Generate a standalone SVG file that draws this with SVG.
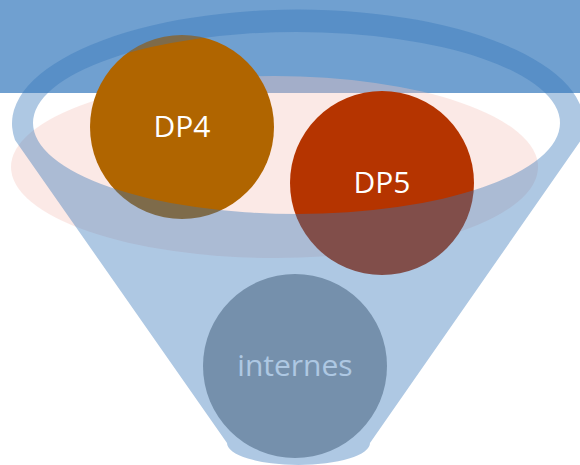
<svg xmlns="http://www.w3.org/2000/svg" width="580" height="465" viewBox="0 0 580 465">
<style>
.lbl{font-family:"Open Sans","Liberation Sans",sans-serif;font-size:30px;fill:#ffffff;text-anchor:middle}
.node{stroke:none}
</style>
<rect width="580" height="465" fill="#ffffff"/>
<g id="banner"><rect x="0" y="0" width="580" height="93" fill="#70A0D0"/></g>
<g id="pink-ellipse"><ellipse cx="274.5" cy="167" rx="263.5" ry="91" fill="#F5C6BE" fill-opacity="0.385"/></g>
<g id="dp4"><circle class="node" cx="182" cy="127" r="92" fill="#B06500"/><text class="lbl" x="182" y="137">DP4</text></g>
<g id="dp5"><circle class="node" cx="382" cy="183" r="92" fill="#B53400"/><text class="lbl" x="382" y="193">DP5</text></g>
<g id="internes"><circle class="node" cx="295" cy="366" r="92" fill="#A0A2A3"/><text class="lbl" x="295" y="376">internes</text></g>
<g id="funnel"><path fill="#3475B9" fill-opacity="0.4" fill-rule="evenodd" d="M15,140 A286,114 0 1 1 581,140 L370,443 A71.5,22 0 0 1 227,443 Z M33,123 A263.5,91 0 1 0 560,123 A263.5,91 0 1 0 33,123 Z"/></g>
<g id="connectors"></g>
</svg>
